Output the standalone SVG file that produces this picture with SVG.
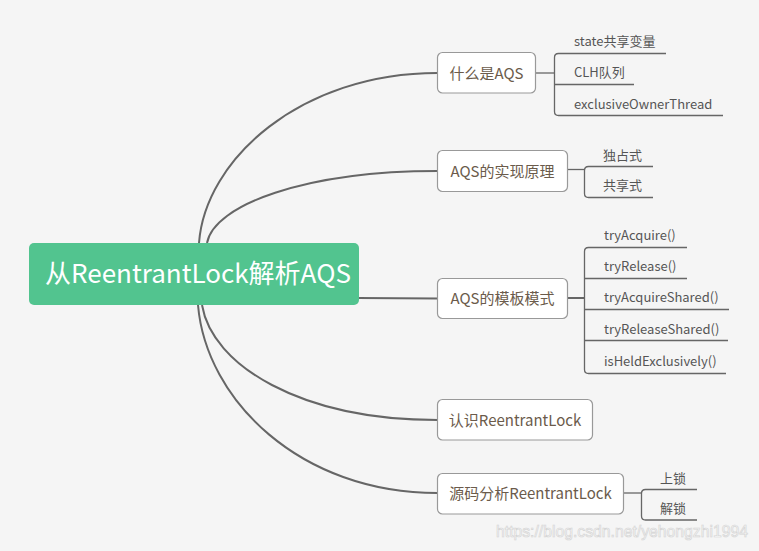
<svg xmlns="http://www.w3.org/2000/svg" width="759" height="551" viewBox="0 0 759 551">
<style>
.bg{fill:#f5f5f5}
.main{fill:none;stroke:#666;stroke-width:2}
.br{fill:none;stroke:#666;stroke-width:1.3}
.box{fill:#fff;stroke:#999;stroke-width:1.2}
.nt{font-family:"Noto Sans CJK SC","Microsoft YaHei",sans-serif;font-size:15px;fill:#6b5b4b;text-anchor:middle}
.lt{font-family:"Noto Sans CJK SC","Microsoft YaHei",sans-serif;font-size:13px;fill:#555}
.ct{font-family:"Noto Sans CJK SC","Microsoft YaHei",sans-serif;font-size:26px;fill:#fff;text-anchor:middle}
.wm{font-family:"Liberation Sans",Arial,sans-serif;font-size:17px;fill:#fafafa;stroke:#d4d4d4;stroke-width:0.7}
</style>
<rect class="bg" x="0" y="0" width="759" height="551"/>
<g id="connectors">
<path class="main" d="M199,243 C205,160 300,73 437.5,73"/>
<path class="main" d="M207,243 C214,205 305,171 437.5,171"/>
<path class="main" d="M358,298 L437.5,298.5"/>
<path class="main" d="M202,305 C212,365 300,420 437.5,420"/>
<path class="main" d="M198,305 C206,400 300,493 437.5,493"/>
<path class="br" d="M536,73 H554.5"/>
<path class="br" d="M666,53.5 H558.5 Q554.5,53.5 554.5,57.5 V111.5 Q554.5,115.5 558.5,115.5 H723"/>
<path class="br" d="M554.5,84.5 H634"/>
<path class="br" d="M567.5,169.5 H584.5"/>
<path class="br" d="M653,166.5 H588.5 Q584.5,166.5 584.5,170.5 V193.5 Q584.5,197.5 588.5,197.5 H653"/>
<path class="main" d="M567.5,298 H584.5"/>
<path class="br" d="M687,247.5 H588.5 Q584.5,247.5 584.5,251.5 V369.5 Q584.5,373.5 588.5,373.5 H726"/>
<path class="br" d="M584.5,278.5 H687"/>
<path class="br" d="M584.5,309.5 H729"/>
<path class="br" d="M584.5,340.5 H728"/>
<path class="br" d="M623.5,493 H641.5"/>
<path class="br" d="M697,489.5 H645.5 Q641.5,489.5 641.5,493.5 V516 Q641.5,520 645.5,520 H697"/>
</g>
<g id="root">
<rect x="29" y="243" width="330" height="62" rx="5" fill="#52c48f"/>
<text class="ct" x="198" y="283">从ReentrantLock解析AQS</text>
</g>
<g id="n1">
<rect class="box" x="437.5" y="52.5" width="98" height="40.5" rx="5"/>
<text class="nt" x="486.5" y="78.5">什么是AQS</text>
<text class="lt" x="574" y="46">state共享变量</text>
<text class="lt" x="574" y="77">CLH队列</text>
<text class="lt" x="574" y="108.5">exclusiveOwnerThread</text>
</g>
<g id="n2">
<rect class="box" x="437.5" y="150.5" width="130" height="41" rx="5"/>
<text class="nt" x="502.5" y="176.5">AQS的实现原理</text>
<text class="lt" x="603" y="159.5">独占式</text>
<text class="lt" x="603" y="190">共享式</text>
</g>
<g id="n3">
<rect class="box" x="437.5" y="278.5" width="130" height="40" rx="5"/>
<text class="nt" x="502.5" y="303.5">AQS的模板模式</text>
<text class="lt" x="604" y="240">tryAcquire()</text>
<text class="lt" x="604" y="271">tryRelease()</text>
<text class="lt" x="604" y="302">tryAcquireShared()</text>
<text class="lt" x="604" y="333.5">tryReleaseShared()</text>
<text class="lt" x="604" y="366">isHeldExclusively()</text>
</g>
<g id="n4">
<rect class="box" x="437.5" y="399.5" width="155" height="40.5" rx="5"/>
<text class="nt" x="515" y="425.5">认识ReentrantLock</text>
</g>
<g id="n5">
<rect class="box" x="437.5" y="473.5" width="186" height="40.5" rx="5"/>
<text class="nt" x="530.5" y="499">源码分析ReentrantLock</text>
<text class="lt" x="660" y="482.5">上锁</text>
<text class="lt" x="660" y="513">解锁</text>
</g>
<text class="wm" x="496" y="537" textLength="252" lengthAdjust="spacingAndGlyphs">https://blog.csdn.net/yehongzhi1994</text>
</svg>
